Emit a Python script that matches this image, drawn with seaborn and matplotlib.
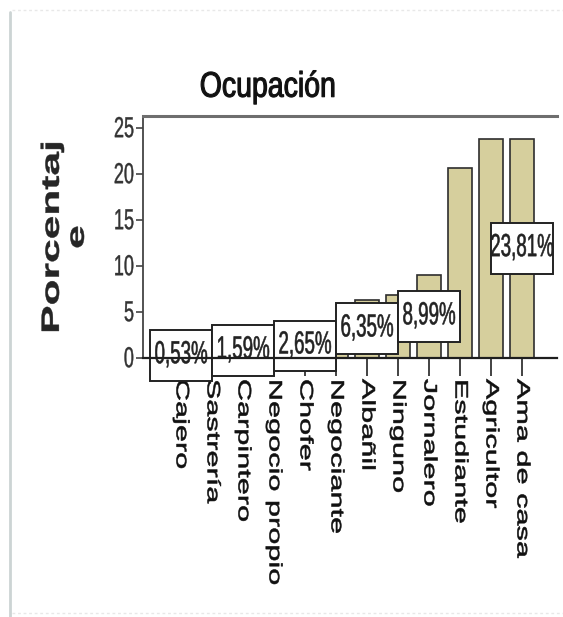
import matplotlib
matplotlib.use("Agg")
import matplotlib.pyplot as plt
from matplotlib import patheffects
from matplotlib.lines import Line2D
from matplotlib.patches import Rectangle
from matplotlib.transforms import Affine2D
import pandas as pd
import seaborn as sns

# Occupation distribution (% of respondents), sorted ascending
categories = ["Cajero", "Sastrería", "Carpintero", "Negocio propio", "Chofer",
              "Negociante", "Albañil", "Ninguno", "Jornalero", "Estudiante",
              "Agricultor", "Ama de casa"]
percentages = [0.53, 0.53, 1.59, 1.59, 2.65, 2.65, 6.35, 6.88, 8.99, 20.63,
               23.81, 23.81]
# bars whose value label is shown
labelled = ["Cajero", "Carpintero", "Chofer", "Albañil", "Jornalero", "Ama de casa"]
y_ticks = [0, 5, 10, 15, 20, 25]

sns.set_style("white")
plt.rcParams["font.family"] = ["Liberation Sans", "DejaVu Sans"]

BAR = "#d6cf9d"
EDGE = "#2e2e2e"


class Stretch(patheffects.AbstractPathEffect):
    """Draw a text's glyphs stretched vertically about its box centre or top,
    optionally with a thin outline in the text colour to thicken strokes."""

    def __init__(self, text, factor, anchor="center", stroke=0.0):
        super().__init__()
        self.text = text
        self.factor = factor
        self.anchor = anchor
        self.stroke = stroke

    def draw_path(self, renderer, gc, tpath, affine, rgbFace=None):
        box = self.text.get_window_extent(renderer)
        y0 = box.y1 if self.anchor == "top" else 0.5 * (box.y0 + box.y1)
        stretch = Affine2D().translate(0, -y0).scale(1, self.factor).translate(0, y0)
        if self.stroke > 0:
            gc0 = renderer.new_gc()
            gc0.copy_properties(gc)
            gc0.set_linewidth(self.stroke)
            gc0.set_foreground(rgbFace)
            renderer.draw_path(gc0, tpath, affine + stretch, rgbFace)
            gc0.restore()
        else:
            renderer.draw_path(gc, tpath, affine + stretch, rgbFace)


W, H = 563, 617
fig = plt.figure(figsize=(W / 100, H / 100), dpi=100)
fig.patch.set_facecolor("white")
ax = fig.add_axes([143 / W, 1 - 358 / H, 414 / W, 242 / H])

df = pd.DataFrame({"Ocupación": categories, "Porcentaje": percentages})
sns.barplot(data=df, x="Ocupación", y="Porcentaje", order=categories,
            color=BAR, saturation=1, width=0.8, edgecolor=EDGE,
            linewidth=1.2, ax=ax, zorder=2)

ax.set_xlim(-1.23, 12.13)
ax.set_ylim(0, 26.3)
ax.set_facecolor("white")

# value labels in boxes, centred at half the bar height
for name in labelled:
    i = categories.index(name)
    v = percentages[i]
    ax.add_patch(Rectangle((i - 1.0, v / 2 - 2.75), 2.0, 5.5, facecolor="white",
                           edgecolor="#222222", linewidth=1.4, zorder=4,
                           clip_on=False))
    t = ax.text(i, v / 2, f"{v:.2f}".replace(".", ",") + "%", ha="center",
                va="center", fontsize=13.5, color="#222222", zorder=5,
                clip_on=False)
    t.set_path_effects([Stretch(t, 1.7, stroke=0.4)])

# axes frame
ax.spines["right"].set_visible(False)
ax.spines["top"].set_color("#6e6e6e")
ax.spines["top"].set_linewidth(2.2)
ax.spines["left"].set_color("#444444")
ax.spines["left"].set_linewidth(1.3)
ax.spines["bottom"].set_color("#1e1e1e")
ax.spines["bottom"].set_linewidth(1.6)
ax.spines["bottom"].set_zorder(10)

ax.set_yticks(y_ticks)
ax.set_yticklabels([str(v) for v in y_ticks])
ax.tick_params(axis="y", length=5, width=1.2, pad=1.5, labelsize=13,
               color="#444444", labelcolor="#333333", left=True)
ax.tick_params(axis="x", length=13, width=1.2, pad=2, labelsize=13,
               color="#222222", labelcolor="#111111", labelrotation=270,
               bottom=True)
ax.set_xlabel("")

for t in ax.get_xticklabels():
    t.set_path_effects([Stretch(t, 1.7, "top", stroke=0.4)])
for t in ax.get_yticklabels():
    t.set_path_effects([Stretch(t, 1.6, stroke=0.3)])

ax.set_ylabel("Porcentaj\ne", fontsize=18, fontweight="bold", linespacing=1.05)
ylab = ax.yaxis.label
ylab.set_rotation_mode("default")
ylab.set_horizontalalignment("center")
ylab.set_verticalalignment("center")
ylab.set_multialignment("center")
ax.yaxis.set_label_coords(-0.19, 0.5)
ylab.set_path_effects([Stretch(ylab, 1.7, stroke=0.3)])

title = fig.text(268 / W, 1 - 88 / H, "Ocupación", ha="center", va="center",
                 fontsize=20.5, color="#111111")
title.set_path_effects([Stretch(title, 1.25, stroke=0.8)])

# page edges
fig.add_artist(Line2D([10 / W, 10 / W], [0, 1 - 12 / H], transform=fig.transFigure,
                      color="#ccd4d4", linewidth=2))
fig.add_artist(Line2D([12 / W, 1], [1 - 10 / H, 1 - 10 / H], transform=fig.transFigure,
                      color="#e8e8e8", linewidth=1, linestyle=(0, (2, 2))))
fig.add_artist(Line2D([12 / W, 1], [1 - 613 / H, 1 - 613 / H], transform=fig.transFigure,
                      color="#e8e8e8", linewidth=1, linestyle=(0, (2, 2))))

fig.savefig("out.png", dpi=100, facecolor="white")
